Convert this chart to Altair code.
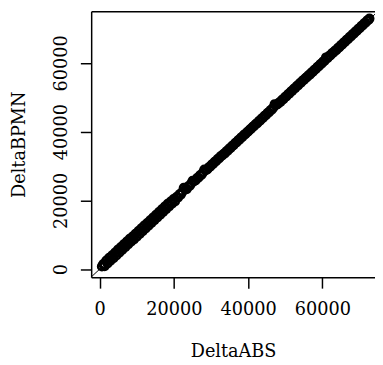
import altair as alt
import pandas as pd

delta_abs = [
    610, 980, 1350, 1790, 2140, 2560, 2930, 3370, 3720, 4150, 4510, 4940, 5290, 5730,
    6080, 6500, 6890, 7310, 7660, 8090, 8450, 8870, 9240, 9650, 10030, 10440, 10820,
    11230, 11610, 12020, 12400, 12810, 13190, 13600, 13980, 14390, 14770, 15180, 15560,
    15970, 16350, 16760, 17140, 17550, 17930, 18340, 18720, 19130, 19510, 19920, 20300,
    20710, 21090, 21500, 21880, 22290, 22670, 23080, 23460, 23870, 24250, 24660, 25040,
    25450, 25830, 26240, 26620, 27030, 27410, 27820, 28200, 28610, 28990, 29400, 29780,
    30190, 30570, 30980, 31360, 31770, 32150, 32560, 32940, 33350, 33730, 34140, 34520,
    34930, 35310, 35720, 36100, 36510, 36890, 37300, 37680, 38090, 38470, 38880, 39260,
    39670, 40050, 40460, 40840, 41250, 41630, 42040, 42420, 42830, 43210, 43620, 44000,
    44410, 44790, 45200, 45580, 45990, 46370, 46780, 47160, 47570, 47950, 48360, 48740,
    49150, 49530, 49940, 50320, 50730, 51110, 51520, 51900, 52310, 52690, 53100, 53480,
    53890, 54270, 54680, 55060, 55470, 55850, 56260, 56640, 57050, 57430, 57840, 58220,
    58630, 59010, 59420, 59800, 60210, 60590, 61000, 61380, 61790, 62170, 62580, 62960,
    63370, 63750, 64160, 64540, 64950, 65330, 65740, 66120, 66530, 66910, 67320, 67700,
    68110, 68490, 68900, 69280, 69690, 70070, 70480, 70860, 71270, 71650, 72060, 72440,
    72700,
]
delta_bpmn = [
    800, 1500, 900, 2500, 1700, 3300, 2500, 4000, 3200, 4800, 4000, 5700, 4800, 6400,
    5600, 7200, 6400, 8000, 7200, 8800, 8000, 9500, 8700, 10300, 9500, 11100, 10300,
    11900, 11100, 12700, 11900, 13400, 12700, 14200, 13500, 15000, 14300, 15800, 15100,
    16600, 15900, 17400, 16700, 18200, 17500, 19000, 18300, 19700, 19100, 20400, 19700,
    21000, 20800, 21800, 21700, 22500, 23700, 23300, 23300, 24100, 24200, 24900, 25700,
    25600, 25800, 26500, 26600, 27300, 27400, 28100, 29000, 28800, 29000, 29600, 29800,
    30400, 30600, 31200, 31400, 32000, 32200, 32800, 33000, 33500, 33700, 34300, 34500,
    35100, 35300, 35900, 36100, 36700, 36900, 37500, 37700, 38300, 38500, 39100, 39300,
    39800, 40100, 40600, 40900, 41400, 41700, 42200, 42400, 43000, 43200, 43800, 44000,
    44600, 44800, 45400, 45600, 46200, 46400, 47000, 48000, 47800, 48000, 48500, 48700,
    49300, 49500, 50100, 50300, 50900, 51100, 51700, 51900, 52500, 52700, 53300, 53500,
    54100, 54300, 54900, 55100, 55600, 55900, 56400, 56600, 57200, 57400, 58000, 58200,
    58800, 59000, 59600, 59800, 60400, 60600, 61600, 61400, 62000, 62200, 62800, 63000,
    63500, 63700, 64300, 64500, 65100, 65300, 65900, 66100, 66700, 66900, 67500, 67700,
    68300, 68500, 69100, 69300, 69900, 70100, 70700, 70900, 71500, 71700, 72300, 72500,
    72900,
]
ref_line = [-5000, 80000]
ticks = [0, 20000, 40000, 60000]

x_domain = [-2280, 74200]
y_domain = [-2371, 75060]

pts = pd.DataFrame({"DeltaABS": delta_abs, "DeltaBPMN": delta_bpmn})
line_df = pd.DataFrame({"DeltaABS": ref_line, "DeltaBPMN": ref_line})

FONT = "DejaVu Serif"
FS = 18

y_axis = alt.Axis(
    orient="left", values=ticks, format="d", labelAngle=-90, labelAlign="center",
    labelBaseline="alphabetic", labelPadding=14, tickSize=11, tickWidth=1.5,
    tickColor="black", domainColor="black", domainWidth=1.5, grid=False,
    labelFont=FONT, labelFontSize=FS, labelColor="black",
    title="DeltaBPMN", titleFont=FONT, titleFontSize=FS, titleFontWeight="normal",
    titleColor="black", titleBaseline="alphabetic", titleX=-68,
)
x_axis = alt.Axis(
    orient="bottom", values=ticks, format="d", labelBaseline="alphabetic",
    labelPadding=27, tickSize=11, tickWidth=1.5, tickColor="black",
    domainColor="black", domainWidth=1.5, grid=False, labelFont=FONT,
    labelFontSize=FS, labelColor="black", labelFlush=False, labelOverlap=False,
    title="DeltaABS", titleFont=FONT, titleFontSize=FS, titleFontWeight="normal",
    titleColor="black", titleBaseline="alphabetic", titleY=81,
)
top_axis = alt.Axis(
    orient="top", labels=False, ticks=False, title=None, grid=False,
    domainColor="black", domainWidth=1.5,
)

xs = alt.Scale(domain=x_domain, nice=False, zero=False)
ys = alt.Scale(domain=y_domain, nice=False, zero=False)

points = alt.Chart(pts).mark_point(
    shape="circle", filled=False, color="black", size=60, strokeWidth=2.6, opacity=1,
    clip=True,
).encode(
    x=alt.X("DeltaABS:Q", scale=xs, axis=x_axis),
    y=alt.Y("DeltaBPMN:Q", scale=ys, axis=y_axis),
)

abline = alt.Chart(line_df).mark_line(color="black", strokeWidth=1, clip=True).encode(
    x=alt.X("DeltaABS:Q", scale=xs, axis=top_axis),
    y=alt.Y("DeltaBPMN:Q", scale=ys, axis=y_axis),
)

chart = alt.layer(points, abline).resolve_axis(x="independent").properties(
    width=289, height=271,
    autosize=alt.AutoSizeParams(type="none"),
    padding={"left": 84.7, "top": 0, "right": 0, "bottom": 86},
    background="white",
).configure_view(stroke=None)

chart.save("out.html", embed_options={"renderer": "svg", "actions": False})
